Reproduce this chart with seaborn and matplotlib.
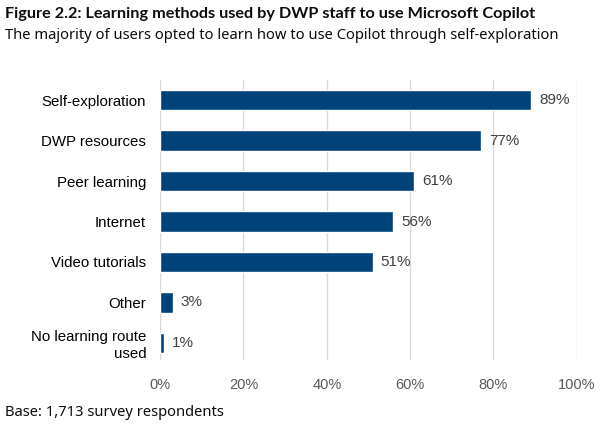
import matplotlib
matplotlib.use("Agg")
import matplotlib.pyplot as plt
import pandas as pd
import seaborn as sns

# Data
methods = ["Self-exploration", "DWP resources", "Peer learning", "Internet",
           "Video tutorials", "Other", "No learning route\nused"]
shares = [89, 77, 61, 56, 51, 3, 1]
x_ticks = [0, 20, 40, 60, 80, 100]

df = pd.DataFrame({"method": methods, "share": shares})

sns.set_theme(style="white")
plt.rcParams["font.family"] = ["Liberation Sans", "DejaVu Sans"]

fig = plt.figure(figsize=(6.04, 4.32), dpi=100)
ax = fig.add_axes([0.265, 0.167, 0.69, 0.648])

sns.barplot(data=df, x="share", y="method", color="#00437A", saturation=1,
            width=0.5, ax=ax, zorder=3)

for i, v in enumerate(df["share"]):
    ax.text(v + 1.9, i, f"{v}%", va="center", ha="left", fontsize=11,
            color="#404040")

ax.set_xlim(0, 100)
ax.set_ylim(6.42, -0.5)
ax.set_xticks(x_ticks)
ax.set_xticklabels([f"{t}%" for t in x_ticks], fontsize=10.5, color="#595959")
ax.tick_params(axis="y", labelsize=10.8, colors="#000000", length=0, pad=10)
ax.tick_params(axis="x", length=4, color="#d9d9d9", pad=9)
ax.set_xlabel("")
ax.set_ylabel("")
ax.grid(axis="x", color="#d9d9d9", linewidth=1, zorder=0)
ax.set_axisbelow(True)
for s in ax.spines.values():
    s.set_visible(False)

fig.text(0.008, 0.968, "Figure 2.2: Learning methods used by DWP staff to use Microsoft Copilot",
         fontsize=11.7, fontweight="bold", family=["Lato", "DejaVu Sans"],
         va="center", ha="left", color="#0b0c0c")
fig.text(0.008, 0.918, "The majority of users opted to learn how to use Copilot through self-exploration",
         fontsize=10.6, family=["Noto Sans", "DejaVu Sans"],
         va="center", ha="left", color="#0b0c0c")
fig.text(0.008, 0.045, "Base: 1,713 survey respondents",
         fontsize=10.6, family=["Noto Sans", "DejaVu Sans"],
         va="center", ha="left", color="#0b0c0c")

fig.savefig("out.png", dpi=100, facecolor="white")
